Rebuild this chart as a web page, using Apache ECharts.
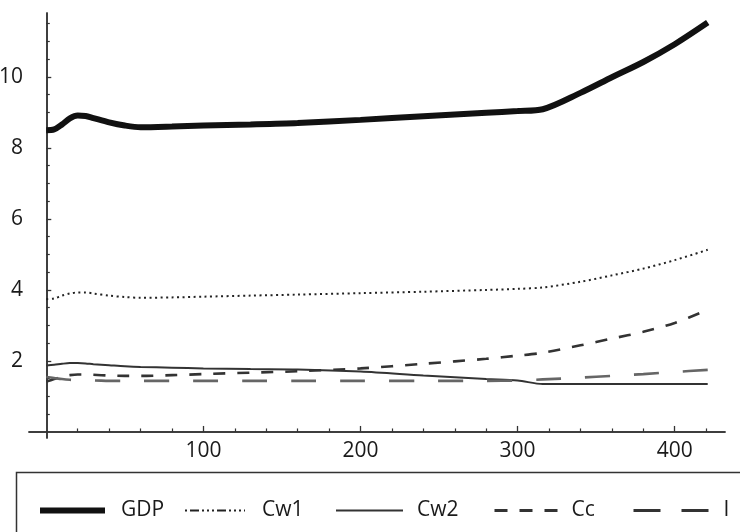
<!DOCTYPE html>
<html>
<head>
<meta charset="utf-8">
<script src="https://cdn.jsdelivr.net/npm/echarts@6/dist/echarts.min.js"></script>
<style>
html, body { margin: 0; padding: 0; background: #fff; }
#chart { width: 740px; height: 532px; }
</style>
</head>
<body>
<div id="chart"></div>
<script>
// data
var xs  = [0, 5, 10, 15, 20, 25, 30, 40, 50, 60, 80, 100, 130, 160, 200, 240, 280, 300, 316, 340, 360, 380, 400, 421];
var gdp = [8.50, 8.52, 8.66, 8.83, 8.91, 8.90, 8.84, 8.72, 8.63, 8.58, 8.60, 8.63, 8.66, 8.70, 8.79, 8.89, 8.99, 9.04, 9.09, 9.55, 9.99, 10.42, 10.92, 11.53];
var cw1 = [3.74, 3.76, 3.84, 3.90, 3.93, 3.93, 3.90, 3.84, 3.80, 3.78, 3.79, 3.81, 3.84, 3.87, 3.91, 3.95, 4.00, 4.03, 4.07, 4.23, 4.41, 4.60, 4.84, 5.13];
var cw2 = [1.87, 1.89, 1.92, 1.94, 1.94, 1.93, 1.91, 1.88, 1.85, 1.83, 1.81, 1.79, 1.77, 1.76, 1.70, 1.59, 1.49, 1.45, 1.35, 1.35, 1.35, 1.35, 1.35, 1.35];
var cc  = [1.42, 1.49, 1.56, 1.60, 1.62, 1.62, 1.61, 1.59, 1.58, 1.58, 1.60, 1.63, 1.67, 1.71, 1.79, 1.92, 2.06, 2.15, 2.23, 2.44, 2.63, 2.82, 3.07, 3.44];
var inv = [1.55, 1.52, 1.49, 1.47, 1.46, 1.45, 1.45, 1.44, 1.44, 1.44, 1.44, 1.44, 1.44, 1.44, 1.44, 1.44, 1.44, 1.45, 1.48, 1.53, 1.58, 1.63, 1.69, 1.75];

var names = ['GDP', 'Cw1', 'Cw2', 'Cc', 'I'];

var xMajor = [100, 200, 300, 400];
var xMinor = [20, 40, 60, 80, 120, 140, 160, 180, 220, 240, 260, 280, 320, 340, 360, 380, 420];
var yMajor = [2, 4, 6, 8, 10];
var yMinor = [0.5, 1, 1.5, 2.5, 3, 3.5, 4.5, 5, 5.5, 6.5, 7, 7.5, 8.5, 9, 9.5, 10.5, 11, 11.5];

var font = 'Open Sans';
var ink = '#1a1a1a';

function pairs(ys) {
    return xs.map(function (x, i) { return [x, ys[i]]; });
}

var chart = echarts.init(document.getElementById('chart'));

var axisLine = { onZero: true, lineStyle: { color: '#333', width: 1.5 } };
var noDot = { opacity: 0, borderWidth: 0 };

// legend entries sit in fixed columns, like the original
var legendCols = [
    { left: 37,  w: 65, gap: 11, line: { width: 6, type: 'solid', color: '#111' } },
    { left: 184, w: 60, gap: 12, line: { width: 2, type: [2, 3, 9, 3, 2, 3, 2, 3], color: '#222' } },
    { left: 335, w: 67, gap: 9,  line: { width: 2, type: 'solid', color: '#333' } },
    { left: 493, w: 64, gap: 8,  line: { width: 3, type: [13, 12], color: '#333' } },
    { left: 632, w: 75, gap: 10, line: { width: 3, type: [27, 21], color: '#333' } }
];
var legends = legendCols.map(function (c, i) {
    return {
        left: c.left,
        top: 500,
        padding: 0,
        itemWidth: c.w,
        itemHeight: 14,
        itemStyle: noDot,
        textStyle: { fontFamily: font, fontSize: 21, color: ink, padding: [0, 0, 0, c.gap] },
        data: [{ name: names[i], itemStyle: noDot, lineStyle: c.line }]
    };
});

var option = {
    animation: false,
    grid: { left: 29, right: 15, top: 13, bottom: 94, containLabel: false, outerBoundsMode: 'none' },
    legend: legends,
    xAxis: [{
        type: 'value', min: -11, max: 432,
        axisLine: axisLine,
        splitLine: { show: false },
        axisTick: { inside: true, length: 6, customValues: xMajor, lineStyle: { color: '#333', width: 1.3 } },
        axisLabel: { customValues: xMajor, margin: 3, fontFamily: font, fontSize: 21, color: ink }
    }, {
        type: 'value', min: -11, max: 432, position: 'bottom',
        axisLine: axisLine,
        splitLine: { show: false },
        axisTick: { inside: true, length: 3.5, customValues: xMinor, lineStyle: { color: '#333', width: 1.2 } },
        axisLabel: { show: false }
    }],
    yAxis: [{
        type: 'value', min: -0.17, max: 11.8,
        axisLine: axisLine,
        splitLine: { show: false },
        axisTick: { inside: true, length: 5, customValues: yMajor, lineStyle: { color: '#333', width: 1.3 } },
        axisLabel: { customValues: yMajor, margin: 6, fontFamily: font, fontSize: 21, color: ink }
    }, {
        type: 'value', min: -0.17, max: 11.8, position: 'left',
        axisLine: axisLine,
        splitLine: { show: false },
        axisTick: { inside: true, length: 3.5, customValues: yMinor, lineStyle: { color: '#333', width: 1.2 } },
        axisLabel: { show: false }
    }],
    series: [
        { name: 'GDP', type: 'line', data: pairs(gdp), symbol: 'none', smooth: 0.3,
          itemStyle: { color: '#111' }, lineStyle: { color: '#111', width: 6 } },
        { name: 'Cw1', type: 'line', data: pairs(cw1), symbol: 'none', smooth: 0.3,
          itemStyle: { color: '#222' }, lineStyle: { color: '#222', width: 2, type: [2, 3.5] } },
        { name: 'Cw2', type: 'line', data: pairs(cw2), symbol: 'none', smooth: 0.3,
          itemStyle: { color: '#333' }, lineStyle: { color: '#333', width: 2 } },
        { name: 'Cc', type: 'line', data: pairs(cc), symbol: 'none', smooth: 0.3,
          itemStyle: { color: '#333' }, lineStyle: { color: '#333', width: 2.6, type: [12, 12] } },
        { name: 'I', type: 'line', data: pairs(inv), symbol: 'none', smooth: 0.3,
          itemStyle: { color: '#666' }, lineStyle: { color: '#666', width: 2.6, type: [25, 24] } }
    ],
    graphic: [{
        type: 'rect',
        left: 14, top: 470,
        shape: { width: 740, height: 80 },
        style: { fill: 'none', stroke: '#333', lineWidth: 1.5 }
    }]
};

chart.setOption(option);
</script>
</body>
</html>
